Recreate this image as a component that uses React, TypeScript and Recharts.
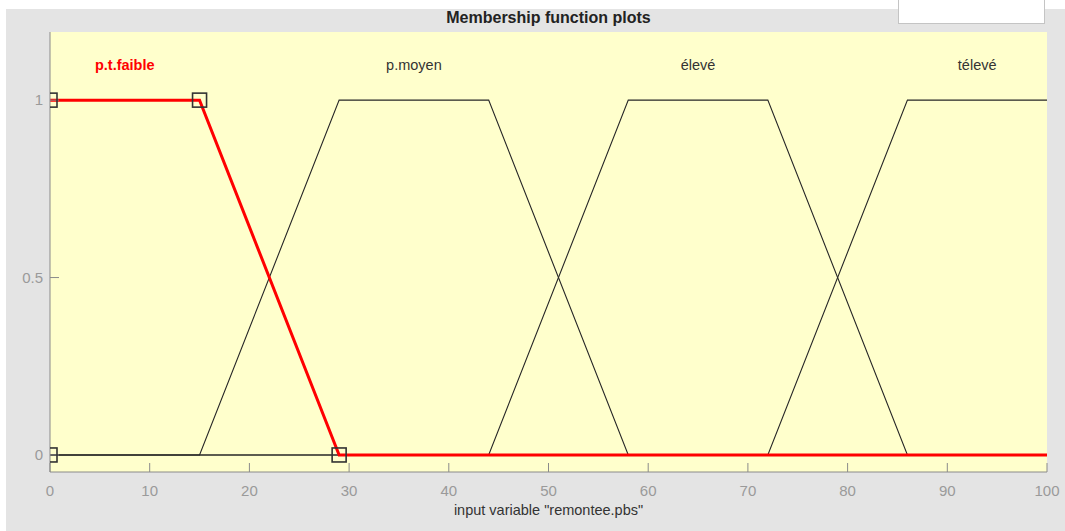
import { LineChart, Line, XAxis, YAxis, CartesianGrid, ReferenceDot } from "recharts";

// membership functions of "remontee.pbs"
const mfNames = ["p.t.faible", "p.moyen", "élevé", "télevé"];
const mfLabelX = [7.5, 36.5, 65, 93];

const ptFaibleX = [0, 15, 29, 100];
const ptFaibleY = [1, 1, 0, 0];
const pMoyenX = [0, 15, 29, 44, 58, 100];
const pMoyenY = [0, 0, 1, 1, 0, 0];
const eleveX = [0, 44, 58, 72, 86, 100];
const eleveY = [0, 0, 1, 1, 0, 0];
const televeX = [0, 72, 86, 100];
const televeY = [0, 0, 1, 1];

// parameter markers of the selected MF
const markerX = [0, 0, 15, 29];
const markerY = [0, 1, 1, 0];

const xTicks = [0, 10, 20, 30, 40, 50, 60, 70, 80, 90, 100];
const yTicks = [0, 0.5, 1];

const toPoints = (xs: number[], ys: number[]) => xs.map((x, i) => ({ x, y: ys[i] }));

const FONT = "'Liberation Sans', Arial, Helvetica, sans-serif";
const AXIS = "#8a8a8a";
const DARK = "#262626";
const Y_DOMAIN = [-0.048, 1.192];

const Square = (props: any) => {
  const { cx, cy, index } = props;
  if (cx == null || cy == null) return <g key={index} />;
  return (
    <rect key={index} x={cx - 7} y={cy - 7} width={14} height={14}
      fill="none" stroke="#333" strokeWidth={1.6} />
  );
};

export default function App() {
  const blackSeries = [
    toPoints(pMoyenX, pMoyenY),
    toPoints(eleveX, eleveY),
    toPoints(televeX, televeY),
  ];

  return (
    <div style={{ position: "absolute", left: 0, top: 0, width: 1065, height: 531, background: "#fff", fontFamily: FONT }}>
      <div style={{ position: "absolute", left: 6, top: 9, right: 0, bottom: 0, background: "#e4e4e4" }} />
      <div style={{ position: "absolute", left: 898, top: -1, width: 145, height: 23, background: "#fff", border: "1px solid #c4c4c4" }} />
      <div style={{ position: "absolute", left: 50, width: 997, top: 8, lineHeight: "20px", textAlign: "center", fontWeight: "bold", fontSize: 16, color: "#222" }}>
        Membership function plots
      </div>
      <div style={{ position: "absolute", left: 0, top: 0 }}>
        <LineChart width={1065} height={531} margin={{ top: 32, right: 18, bottom: 0, left: 0 }}>
          <CartesianGrid xAxisId="b" yAxisId="l" fill="#ffffcc" stroke="none" horizontal={false} vertical={false} />
          <XAxis xAxisId="b" dataKey="x" type="number" domain={[0, 100]} ticks={xTicks} allowDataOverflow
            height={59} tickSize={-9} tickMargin={22} interval={0}
            axisLine={{ stroke: AXIS }} tickLine={{ stroke: AXIS }}
            tick={{ fill: "#9a9a9a", fontSize: 15, fontFamily: FONT }}
            label={{ value: 'input variable "remontee.pbs"', position: "insideBottom", offset: 16, fill: "#333", fontSize: 14.5, fontFamily: FONT }} />
          <XAxis xAxisId="t" orientation="top" dataKey="x" type="number" domain={[0, 100]} ticks={xTicks} allowDataOverflow
            height={0} tickSize={-9} tick={false} interval={0}
            axisLine={{ stroke: AXIS }} tickLine={{ stroke: AXIS }} />
          <YAxis yAxisId="l" type="number" domain={Y_DOMAIN} ticks={yTicks} allowDataOverflow
            width={50} tickSize={-9} tickMargin={16} interval={0}
            tickFormatter={(v: number) => String(v)}
            axisLine={{ stroke: AXIS }} tickLine={{ stroke: AXIS }}
            tick={{ fill: "#9a9a9a", fontSize: 15, fontFamily: FONT }} />
          <YAxis yAxisId="r" orientation="right" type="number" domain={Y_DOMAIN} ticks={yTicks} allowDataOverflow
            width={0} tickSize={-9} tick={false} interval={0}
            axisLine={{ stroke: AXIS }} tickLine={{ stroke: AXIS }} />

          {blackSeries.map((d, i) => (
            <Line key={i} xAxisId="b" yAxisId="l" data={d} dataKey="y" type="linear"
              stroke={DARK} strokeWidth={1.1} dot={false} activeDot={false} isAnimationActive={false} />
          ))}
          <Line xAxisId="b" yAxisId="l" data={toPoints(ptFaibleX, ptFaibleY)} dataKey="y" type="linear"
            stroke="#ff0000" strokeWidth={3} dot={false} activeDot={false} isAnimationActive={false} />
          <Line xAxisId="b" yAxisId="l" data={toPoints(markerX, markerY)} dataKey="y" type="linear"
            stroke="none" dot={Square} activeDot={false} isAnimationActive={false} />

          {mfNames.map((name, i) => (
            <ReferenceDot key={name} xAxisId="b" yAxisId="l" x={mfLabelX[i]} y={1.1} r={0}
              fill="none" stroke="none"
              label={{
                value: name, position: "center", fontFamily: FONT, fontSize: 14.5,
                fill: i === 0 ? "#ff0000" : "#333", fontWeight: i === 0 ? "bold" : "normal",
              }} />
          ))}
        </LineChart>
      </div>
    </div>
  );
}
